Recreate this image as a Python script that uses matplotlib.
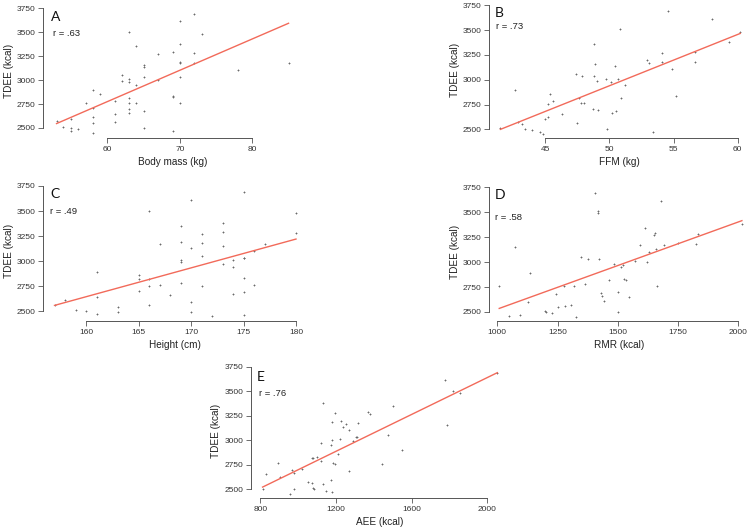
import numpy as np
import matplotlib
matplotlib.use("Agg")
import matplotlib.pyplot as plt

# =========================
# Data (TDEE vs predictors)
# =========================
mass_kg = [53, 53.9, 55, 55, 55, 56, 57, 58, 58, 58, 58, 58, 59, 61, 61, 61, 62, 62,
           63, 63, 63, 63, 63, 63, 63, 64, 64, 64, 65, 65, 65, 65, 65, 67, 67,
           69, 69, 69, 69, 70, 70, 70, 70, 70, 70, 72, 72, 72, 73, 78, 85]
tdee_a = [2570, 2510, 2503, 2472, 2597, 2493, 2758, 2897, 2705, 2618, 2549, 2451, 2855,
          2786, 2650, 2563, 3054, 2991, 3506, 3015, 2977, 2817, 2761, 2695, 2660,
          3353, 2946, 2761, 3155, 3141, 3029, 2678, 2500, 3273, 3001,
          3290, 2831, 2820, 2469, 3614, 3377, 3189, 3176, 3029, 2761, 3694, 3280, 3182,
          3485, 3106, 3182]

ffm_kg = [41.5, 42.6, 42.9, 43.2, 43.4, 44.0, 44.6, 44.8, 45.0, 45.2, 45.2, 45.4, 45.6,
          46.3, 47.5, 47.4, 47.6, 47.8, 48.0, 47.9, 48.7, 48.8, 48.8, 48.9, 49.0, 49.1,
          49.7, 49.8, 50.1, 50.2, 50.4, 50.5, 50.7, 50.8, 50.9, 51.2, 52.9, 53.1, 53.4,
          54.1, 54.1, 54.6, 54.9, 55.2, 56.7, 56.7, 58.0, 59.3, 60.2]
tdee_b = [2517, 2896, 2574, 2550, 2507, 2497, 2473, 2456, 2601, 2621, 2759, 2860, 2786,
          2651, 2567, 3054, 2819, 2765, 2765, 3034, 2708, 3357, 3034, 3159, 2991, 2698,
          3004, 2500, 2977, 2665, 3138, 2681, 3011, 3508, 2819, 2947, 3196, 3172, 2470,
          3273, 3179, 3693, 3105, 2833, 3283, 3179, 3612, 3377, 3481]

height_cm = [157, 158, 159, 160, 161, 161, 161, 163, 163, 165, 165, 165, 166, 166, 166, 166,
             167, 167, 168, 169, 169, 169, 169, 169, 170, 170, 170, 170, 171, 171, 171, 171,
             172, 173, 173, 173, 173, 174, 174, 174, 175, 175, 175, 175, 175, 175,
             176, 176, 177, 180, 180]
tdee_c = [2566, 2613, 2510, 2500, 2892, 2646, 2470, 2547, 2490, 2859, 2819, 2699, 3504,
          2819, 2753, 2560, 3171, 2759, 2660, 3351, 3191, 3009, 2989, 2779, 3614, 3131,
          2593, 2493, 3271, 3178, 3048, 2753, 2453, 3378, 3291, 3151, 2975, 3012, 2945,
          2676, 3690, 3029, 3029, 2829, 2689, 2467, 3105, 2763, 3175, 3481, 3284]

rmr_kcal = [1008, 1047, 1072, 1094, 1129, 1136, 1196, 1202, 1228, 1242, 1253, 1278, 1280,
            1305, 1317, 1328, 1348, 1362, 1377, 1404, 1416, 1418, 1421, 1430, 1434, 1444,
            1463, 1484, 1501, 1501, 1515, 1522, 1527, 1532, 1545, 1571, 1592, 1613, 1621,
            1630, 1651, 1656, 1658, 1661, 1679, 1692, 1750, 1826, 1833, 2015]
tdee_d = [2757, 2463, 3155, 2467, 2600, 2894, 2513, 2497, 2487, 2677, 2547, 2757, 2560,
          2567, 2757, 2450, 3048, 2781, 3031, 3693, 3496, 3509, 3031, 2690, 2664, 2610,
          2818, 2981, 2701, 2500, 2951, 2968, 2831, 2817, 2650, 3015, 3175, 3346, 3005,
          3101, 3275, 3292, 3131, 2761, 3613, 3172, 3195, 3182, 3282, 3382]

aee_kcal = [812, 830, 892, 906, 959, 969, 976, 978, 1022, 1050, 1073, 1075, 1080, 1080, 1086,
            1098, 1123, 1123, 1131, 1130, 1147, 1172, 1175, 1179, 1181, 1183, 1179, 1197,
            1197, 1209, 1222, 1227, 1236, 1254, 1267, 1267, 1288, 1308, 1312, 1317, 1368,
            1382, 1442, 1474, 1500, 1548, 1775, 1789, 1819, 1854, 2053]
tdee_e = [2503, 2650, 2766, 2623, 2452, 2694, 2497, 2667, 2708, 2575, 2565, 2817, 2817,
          2510, 2500, 2830, 2783, 2973, 3375, 2551, 2476, 2946, 2592, 3181, 3004, 2766,
          2473, 3277, 2759, 2858, 3014, 3191, 3133, 3168, 3103, 2681, 2990, 3031, 3031,
          3174, 3290, 3270, 2759, 3048, 3348, 2895, 3610, 3154, 3505, 3484, 3689]

y_ticks = [2500, 2750, 3000, 3250, 3500, 3750]

# =========================
# Layout (pixels in a 756x532 image)
# =========================
W, H = 756, 532
PT = 72 / 100  # pixels -> points at dpi 100

plt.rcParams["font.family"] = ["Liberation Sans", "DejaVu Sans"]

fig = plt.figure(figsize=(7.56, 5.32), dpi=100)
fig.patch.set_facecolor("white")


def panel(x, y, xticks, xpx, ypx, spine_x, spine_y, xlim, xlabel, letter, r_text, lpos, rpos):
    ylim = (2430, 3765)
    sx = (xpx[1] - xpx[0]) / (xticks[-1] - xticks[0])
    left = xpx[0] + (xlim[0] - xticks[0]) * sx
    right = xpx[0] + (xlim[1] - xticks[0]) * sx
    sy = (ypx[1] - ypx[0]) / (3750 - 2500)
    top = ypx[0] + (ylim[1] - 2500) * sy
    bottom = ypx[0] + (ylim[0] - 2500) * sy
    ax = fig.add_axes([left / W, 1 - bottom / H, (right - left) / W, (bottom - top) / H])
    ax.set_xlim(xlim)
    ax.set_ylim(ylim)
    ax.patch.set_alpha(0)

    ax.scatter(x, y, marker="+", s=3, linewidths=0.6, color="#6a6a6a", clip_on=False, zorder=2)

    # regression line
    slope, intercept = np.polyfit(x, y, 1)
    xs = np.array([min(x), max(x)])
    ax.plot(xs, intercept + slope * xs, color="#f26a5a", lw=1.0, zorder=3)

    for s in ["top", "right"]:
        ax.spines[s].set_visible(False)
    ax.spines["left"].set_position(("outward", (left - spine_x) * PT))
    ax.spines["bottom"].set_position(("outward", (spine_y - bottom) * PT))
    ax.spines["left"].set_bounds(2500, 3750)
    ax.spines["bottom"].set_bounds(xticks[0], xticks[-1])
    for s in ["left", "bottom"]:
        ax.spines[s].set_color("#555555")
        ax.spines[s].set_linewidth(0.7)

    ax.set_xticks(xticks)
    ax.set_yticks(y_ticks)
    ax.tick_params(labelsize=6, length=3.5, width=0.6, color="#555555",
                   labelcolor="#333333", pad=2)
    ax.set_xlabel(xlabel, fontsize=7.2, color="#222222", labelpad=3)
    ax.set_ylabel("TDEE (kcal)", fontsize=7.2, color="#222222", labelpad=2)

    fig.text(lpos[0] / W, 1 - lpos[1] / H, letter, fontsize=10, family="Lato",
             ha="left", va="center", color="#111111")
    fig.text(rpos[0] / W, 1 - rpos[1] / H, r_text, fontsize=6.8,
             ha="left", va="center", color="#222222")
    return ax


panel(mass_kg, tdee_a, [60, 70, 80], (107.3, 252.3), (128, 8.3), 43, 138,
      (52, 86), "Body mass (kg)", "A", "r = .63", (51, 16.7), (53, 34))
panel(ffm_kg, tdee_b, [45, 50, 55, 60], (545.3, 737.7), (129.3, 5.3), 489.3, 138,
      (41, 60.6), "FFM (kg)", "B", "r = .73", (495, 12.7), (495.7, 26.7))
panel(height_cm, tdee_c, [160, 165, 170, 175, 180], (86, 296), (311.3, 186), 43, 321,
      (156, 181), "Height (cm)", "C", "r = .49", (50, 194), (50, 211))
panel(rmr_kcal, tdee_d, [1000, 1250, 1500, 1750, 2000], (497.3, 738.3), (312, 187.3), 489.3, 321,
      (975, 2035), "RMR (kcal)", "D", "r = .58", (495, 195), (495.3, 217))
panel(aee_kcal, tdee_e, [800, 1200, 1600, 2000], (260.3, 487.3), (489, 366.7), 250.7, 498,
      (790, 2070), "AEE (kcal)", "E", "r = .76", (257, 377.3), (258.7, 394))

fig.savefig("out.png", dpi=100, facecolor="white")
